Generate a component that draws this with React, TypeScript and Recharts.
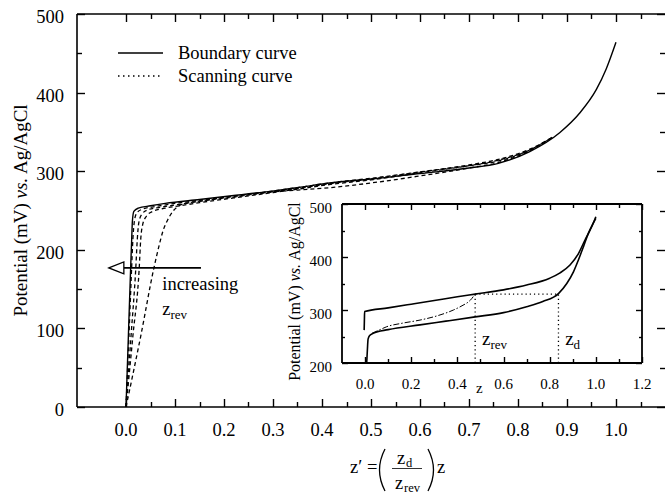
import React from "react";
import {
  LineChart,
  Line,
  XAxis,
  YAxis,
  Legend,
  ReferenceLine,
  ReferenceDot,
} from "recharts";

const SERIF = "'Liberation Serif', 'Times New Roman', 'DejaVu Serif', serif";

// ---- main plot: potential (mV) against normalised coverage z'

const boundaryZ = [0, 0.005, 0.0095, 0.0116, 0.013, 0.016, 0.025, 0.05, 0.08, 0.15, 0.22, 0.29, 0.36, 0.415, 0.5, 0.6, 0.7, 0.76, 0.824, 0.885, 0.926, 0.96, 0.98, 1.0];
const boundaryE = [0, 93, 177, 213, 236, 249, 253, 256, 259, 264, 269, 274, 280, 285, 290, 297, 304, 310, 325, 349, 374, 404, 430, 464];

const scan1Z = [0, 0.006, 0.0115, 0.014, 0.017, 0.022, 0.035, 0.06, 0.1, 0.15, 0.22, 0.29, 0.36, 0.415, 0.5, 0.6, 0.7, 0.76, 0.824, 0.87];
const scan1E = [0, 90, 177, 213, 236, 247, 252, 255, 259, 263, 268, 274, 280, 285, 291, 299, 307, 313, 327, 343];

const scan2Z = [0, 0.01, 0.02, 0.023, 0.026, 0.032, 0.045, 0.07, 0.1, 0.15, 0.22, 0.29, 0.36, 0.415, 0.5, 0.6, 0.7, 0.76, 0.824, 0.87];
const scan2E = [0, 88, 177, 213, 234, 245, 251, 254, 257, 262, 267, 273, 279, 284, 290, 299, 308, 315, 328, 343];

const scan3Z = [0, 0.014, 0.027, 0.03, 0.034, 0.042, 0.055, 0.08, 0.11, 0.15, 0.22, 0.29, 0.36, 0.415, 0.5, 0.6, 0.7, 0.76, 0.824, 0.87];
const scan3E = [0, 90, 177, 213, 232, 243, 249, 253, 256, 260, 266, 272, 278, 283, 289, 298, 307, 314, 327, 343];

const scan4Z = [0, 0.03, 0.057, 0.067, 0.076, 0.085, 0.097, 0.108, 0.125, 0.149, 0.217, 0.286, 0.35, 0.415, 0.5, 0.6, 0.7, 0.76, 0.824, 0.87];
const scan4E = [0, 90, 177, 204, 225, 238, 250, 256, 259.5, 261.5, 268, 273, 276, 279, 285, 294, 304, 311, 326, 343];

const mainXTicks = [0, 0.05, 0.1, 0.15, 0.2, 0.25, 0.3, 0.35, 0.4, 0.45, 0.5, 0.55, 0.6, 0.65, 0.7, 0.75, 0.8, 0.85, 0.9, 0.95, 1.0, 1.05];
const mainYTicks = [0, 50, 100, 150, 200, 250, 300, 350, 400, 450, 500];

// "increasing z_rev" arrow
const arrowE = 177;
const arrowTipZ = -0.035;
const arrowTailZ = 0.153;

// ---- inset: one scanning loop against z

const upperZ = [-0.004, -0.003, -0.002, 0.1, 0.2, 0.3, 0.4, 0.477, 0.6, 0.7, 0.8, 0.845, 0.888, 0.924, 0.953, 0.982, 1.0];
const upperE = [262, 280, 297, 304, 311, 318, 325, 330, 338, 347, 360, 370, 385, 406, 432, 457, 476];

const lowerZ = [0.007, 0.01, 0.013, 0.02, 0.035, 0.1, 0.238, 0.35, 0.477, 0.6, 0.7, 0.77, 0.838, 0.874, 0.903, 0.924, 0.946, 0.968, 0.989, 1.0];
const lowerE = [200, 225, 245, 252, 256, 263, 272, 279, 287, 295, 306, 316, 331, 350, 372, 394, 419, 445, 464, 473];

const reverseZ = [0.03, 0.06, 0.094, 0.16, 0.238, 0.31, 0.383, 0.42, 0.455, 0.477];
const reverseE = [256, 262, 268.5, 275, 281, 288.7, 300, 308, 318, 330];

const zRev = 0.477;
const zD = 0.838;
const crossE = 330;

const insetXTicks = [0, 0.1, 0.2, 0.3, 0.4, 0.5, 0.6, 0.7, 0.8, 0.9, 1.0, 1.1, 1.2];
const insetYTicks = [200, 250, 300, 350, 400, 450, 500];

const zip = (zs: number[], es: number[]) => zs.map((z, i) => ({ z, e: es[i] }));

const boundary = zip(boundaryZ, boundaryE);
const scans = [zip(scan1Z, scan1E), zip(scan2Z, scan2E), zip(scan3Z, scan3E), zip(scan4Z, scan4E)];
const upper = zip(upperZ, upperE);
const lower = zip(lowerZ, lowerE);
const reverse = zip(reverseZ, reverseE);

// plot box sizes (px), used for the inward frame ticks
const MAIN_W = 588;
const MAIN_H = 393;
const INSET_W = 300;
const INSET_H = 159;

const isMajor = (v: number, step: number) =>
  Math.abs(v / step - Math.round(v / step)) < 1e-6;

type FrameX = {
  ticks: number[];
  domain: [number, number];
  step: number;
  major: number;
  minor: number;
};

type TickOpts = {
  step: number;
  base?: number;
  major?: number;
  minor?: number;
  plotW?: number;
  plotH?: number;
  frameX?: FrameX;
  fontSize: number;
  gap: number;
  dy?: number;
  fmt?: (v: number) => string;
};

const bottomTick = (o: TickOpts) => (p: any) => {
  const v = p.payload.value as number;
  if (!isMajor(v, o.step)) return <g />;
  return (
    <text x={p.x} y={Number(p.y) + o.gap} textAnchor="middle" fontSize={o.fontSize} style={{ fontFamily: SERIF }} fill="#000">
      {o.fmt ? o.fmt(v) : String(v)}
    </text>
  );
};

// left-axis tick: inward tick plus a mirrored one on the right edge; the tick at
// the bottom corner also lays out the inward ticks of the bottom and top edges
const leftTick = (o: TickOpts) => (p: any) => {
  const v = p.payload.value as number;
  const x = Number(p.x);
  const yRaw = Number(p.y);
  const y = Math.round(yRaw) + 0.5;
  const big = isMajor(v, o.step);
  const len = (big ? o.major : o.minor) || 0;
  const w = o.plotW || 0;
  const h = o.plotH || 0;
  const right = x + w;
  const segs: React.ReactNode[] = [
    <line key="l" x1={x} x2={x + len} y1={y} y2={y} />,
    <line key="r" x1={right} x2={right - len} y1={y} y2={y} />,
  ];
  const fx = o.frameX;
  if (fx && Math.abs(v - (o.base as number)) < 1e-9) {
    const top = yRaw - h;
    const [lo, hi] = fx.domain;
    fx.ticks.forEach((t) => {
      const tx = Math.round(x + ((t - lo) / (hi - lo)) * w) + 0.5;
      const tl = isMajor(t, fx.step) ? fx.major : fx.minor;
      segs.push(<line key={`b${t}`} x1={tx} x2={tx} y1={yRaw} y2={yRaw - tl} />);
      segs.push(<line key={`t${t}`} x1={tx} x2={tx} y1={top} y2={top + tl} />);
    });
  }
  return (
    <g>
      <g stroke="#000" strokeWidth={1.4}>{segs}</g>
      {big && (
        <text x={x - o.gap} y={yRaw + (o.dy || 0)} textAnchor="end" fontSize={o.fontSize} style={{ fontFamily: SERIF }} fill="#000">
          {String(v)}
        </text>
      )}
    </g>
  );
};

const fmt1 = (v: number) => v.toFixed(1);

// ---- labels

const MainYLabel = (p: any) => {
  const vb = p.viewBox || { x: 0, y: 14, width: 77, height: 393 };
  const cy = vb.y + vb.height / 2;
  const bx = vb.x + 27;
  return (
    <text x={bx} y={cy} transform={`rotate(-90, ${bx}, ${cy})`} textAnchor="middle" fontSize={19} style={{ fontFamily: SERIF }} fill="#000">
      Potential (mV) <tspan fontStyle="italic">vs.</tspan> Ag/AgCl
    </text>
  );
};

const InsetYLabel = (p: any) => {
  const vb = p.viewBox || { x: 0, y: 14, width: 72, height: 159 };
  const cy = vb.y + vb.height / 2 + 8;
  const bx = vb.x + 30;
  return (
    <text x={bx} y={cy} transform={`rotate(-90, ${bx}, ${cy})`} textAnchor="middle" fontSize={16} style={{ fontFamily: SERIF }} fill="#000">
      Potential (mV) <tspan fontStyle="italic">vs.</tspan> Ag/AgCl
    </text>
  );
};

// z' = (z_d / z_rev) z
const MainXLabel = (p: any) => {
  const vb = p.viewBox || { x: 77, y: 407 };
  const ox = vb.x;
  const oy = vb.y;
  const t = { style: { fontFamily: SERIF }, fill: "#000" };
  return (
    <g>
      <text x={ox + 273} y={oy + 66} fontSize={18.5} {...t}>z′ =</text>
      <path d={`M ${ox + 308} ${oy + 42} Q ${ox + 297} ${oy + 63} ${ox + 308} ${oy + 84}`} fill="none" stroke="#000" strokeWidth={1.3} />
      <text x={ox + 320} y={oy + 57} fontSize={18.5} {...t}>z</text>
      <text x={ox + 329} y={oy + 60} fontSize={12.5} {...t}>d</text>
      <line x1={ox + 315} x2={ox + 345} y1={oy + 61.5} y2={oy + 61.5} stroke="#000" strokeWidth={0.8} />
      <text x={ox + 318} y={oy + 82} fontSize={18.5} {...t}>z</text>
      <text x={ox + 327} y={oy + 85} fontSize={12.5} {...t}>rev</text>
      <path d={`M ${ox + 351} ${oy + 42} Q ${ox + 362} ${oy + 63} ${ox + 351} ${oy + 84}`} fill="none" stroke="#000" strokeWidth={1.3} />
      <text x={ox + 360} y={oy + 66} fontSize={18.5} {...t}>z</text>
    </g>
  );
};

const InsetXLabel = (p: any) => {
  const vb = p.viewBox || { x: 72, y: 173 };
  return (
    <text x={vb.x + 134} y={vb.y + 30} fontSize={15} style={{ fontFamily: SERIF }} fill="#000">
      z
    </text>
  );
};

// hollow left-pointing arrow head on the segment
const ArrowShape = (p: any) => {
  const { x1, y1, x2 } = p;
  const tip = Math.min(x1, x2);
  const tail = Math.max(x1, x2);
  const back = tip + 15;
  return (
    <g>
      <line x1={back} x2={tail} y1={y1} y2={y1} stroke="#000" strokeWidth={1.6} />
      <polygon points={`${tip},${y1} ${back},${y1 - 6} ${back},${y1 + 6}`} fill="#fff" stroke="#000" strokeWidth={1.3} />
    </g>
  );
};

const subText = (main: string, sub: string, size: number, subSize: number) => (p: any) => (
  <text x={p.cx} y={p.cy} fontSize={size} style={{ fontFamily: SERIF }} fill="#000">
    {main}
    <tspan fontSize={subSize} dy={4}>{sub}</tspan>
  </text>
);

const plainText = (s: string, size: number) => (p: any) => (
  <text x={p.cx} y={p.cy} fontSize={size} style={{ fontFamily: SERIF }} fill="#000">
    {s}
  </text>
);

const renderLegend = (props: any) => {
  const items = (props.payload || []).filter((it: any) => it.type !== "none");
  return (
    <svg width={230} height={50} style={{ display: "block" }}>
      {items.map((it: any, i: number) => {
        const y = 13 + i * 23;
        const solid = it.value === "Boundary curve";
        return (
          <g key={it.value}>
            <line x1={8} x2={53} y1={y} y2={y} stroke="#000" strokeWidth={1.4} strokeDasharray={solid ? undefined : "1.5 3.5"} />
            <text x={68} y={y + 6} fontSize={18.5} style={{ fontFamily: SERIF }} fill="#000">
              {it.value}
            </text>
          </g>
        );
      })}
    </svg>
  );
};

const frame = { stroke: "#000", strokeWidth: 1.6 };
const insetFrame = { stroke: "#000", strokeWidth: 1.8 };

export default function App() {
  return (
    <div style={{ position: "absolute", left: 0, top: 0, width: 665, height: 494, background: "#fff", fontFamily: SERIF }}>
      <LineChart width={665} height={494} margin={{ top: 0, right: 0, bottom: 0, left: 0 }}>
        <XAxis
          type="number"
          dataKey="z"
          domain={[-0.1, 1.1]}
          allowDataOverflow
          ticks={mainXTicks}
          interval={0}
          tickSize={0}
          tickMargin={0}
          height={87}
          axisLine={frame}
          tickLine={false}
          tick={bottomTick({ step: 0.1, fontSize: 18.5, gap: 29, fmt: fmt1 })}
          label={<MainXLabel />}
        />
        <XAxis xAxisId="top" orientation="top" type="number" domain={[-0.1, 1.1]} allowDataOverflow height={14} axisLine={frame} tickLine={false} tick={false} />
        <YAxis
          type="number"
          domain={[0, 500]}
          allowDataOverflow
          ticks={mainYTicks}
          interval={0}
          tickSize={0}
          tickMargin={0}
          width={77}
          axisLine={frame}
          tickLine={false}
          tick={leftTick({
            step: 100,
            base: mainYTicks[0],
            major: 8,
            minor: 5,
            plotW: MAIN_W,
            plotH: MAIN_H,
            frameX: { ticks: mainXTicks, domain: [-0.1, 1.1], step: 0.1, major: 8, minor: 5 },
            fontSize: 18.5,
            gap: 13,
            dy: 9,
          })}
          label={<MainYLabel />}
        />
        <Legend
          verticalAlign="middle"
          layout="horizontal"
          content={renderLegend}
          wrapperStyle={{ left: 110, top: 40, width: 230, height: 50 }}
        />
        <Line data={boundary} dataKey="e" xAxisId="top" legendType="none" stroke="none" dot={false} activeDot={false} isAnimationActive={false} />
        <Line data={boundary} dataKey="e" name="Boundary curve" type="monotone" stroke="#000" strokeWidth={1.4} dot={false} activeDot={false} isAnimationActive={false} />
        {scans.map((d, i) => (
          <Line
            key={i}
            data={d}
            dataKey="e"
            name={i === 0 ? "Scanning curve" : `Scanning curve ${i + 1}`}
            legendType={i === 0 ? "line" : "none"}
            type="monotone"
            stroke="#000"
            strokeWidth={1.3}
            strokeDasharray="4 3"
            dot={false}
            activeDot={false}
            isAnimationActive={false}
          />
        ))}
        <ReferenceLine
          segment={[{ x: arrowTipZ, y: arrowE }, { x: arrowTailZ, y: arrowE }]}
          ifOverflow="visible"
          shape={ArrowShape}
        />
        <ReferenceDot x={0.074} y={149} ifOverflow="visible" shape={plainText("increasing", 18.5)} />
        <ReferenceDot x={0.074} y={117} ifOverflow="visible" shape={subText("z", "rev", 18.5, 13)} />
      </LineChart>

      <div style={{ position: "absolute", left: 270, top: 190 }}>
        <LineChart width={395} height={215} margin={{ top: 0, right: 0, bottom: 0, left: 0 }}>
          <XAxis
            type="number"
            dataKey="z"
            domain={[-0.1, 1.2]}
            allowDataOverflow
            ticks={insetXTicks}
            interval={0}
            tickSize={0}
            tickMargin={0}
            height={42}
            axisLine={insetFrame}
            tickLine={false}
            tick={bottomTick({ step: 0.2, fontSize: 15, gap: 26, fmt: fmt1 })}
            label={<InsetXLabel />}
          />
          <XAxis xAxisId="top" orientation="top" type="number" domain={[-0.1, 1.2]} allowDataOverflow height={14} axisLine={insetFrame} tickLine={false} tick={false} />
          <YAxis
            type="number"
            domain={[200, 500]}
            allowDataOverflow
            ticks={insetYTicks}
            interval={0}
            tickSize={0}
            tickMargin={0}
            width={72}
            axisLine={insetFrame}
            tickLine={false}
            tick={leftTick({
              step: 100,
              base: insetYTicks[0],
              major: 6,
              minor: 3,
              plotW: INSET_W,
              plotH: INSET_H,
              frameX: { ticks: insetXTicks, domain: [-0.1, 1.2], step: 0.2, major: 6, minor: 4 },
              fontSize: 15,
              gap: 10,
              dy: 9,
            })}
            label={<InsetYLabel />}
          />
          <YAxis yAxisId="right" orientation="right" type="number" domain={[200, 500]} allowDataOverflow width={23} axisLine={insetFrame} tickLine={false} tick={false} />
          <ReferenceLine segment={[{ x: zRev, y: 200 }, { x: zRev, y: crossE }]} stroke="#000" strokeWidth={1.3} strokeDasharray="1.2 3" />
          <ReferenceLine segment={[{ x: zD, y: 200 }, { x: zD, y: crossE }]} stroke="#000" strokeWidth={1.3} strokeDasharray="1.2 3" />
          <ReferenceLine segment={[{ x: zRev, y: crossE }, { x: zD, y: crossE }]} stroke="#000" strokeWidth={1.3} strokeDasharray="1.2 3" />
          <Line data={upper} dataKey="e" xAxisId="top" yAxisId="right" legendType="none" stroke="none" dot={false} activeDot={false} isAnimationActive={false} />
          <Line data={upper} dataKey="e" type="monotone" stroke="#000" strokeWidth={1.6} dot={false} activeDot={false} isAnimationActive={false} />
          <Line data={lower} dataKey="e" type="monotone" stroke="#000" strokeWidth={1.6} dot={false} activeDot={false} isAnimationActive={false} />
          <Line data={reverse} dataKey="e" type="monotone" stroke="#000" strokeWidth={1} strokeDasharray="6 2 1.5 2" dot={false} activeDot={false} isAnimationActive={false} />
          <ReferenceDot x={0.507} y={234} ifOverflow="visible" shape={subText("z", "rev", 19, 13)} />
          <ReferenceDot x={0.867} y={234} ifOverflow="visible" shape={subText("z", "d", 19, 13)} />
        </LineChart>
      </div>
    </div>
  );
}
